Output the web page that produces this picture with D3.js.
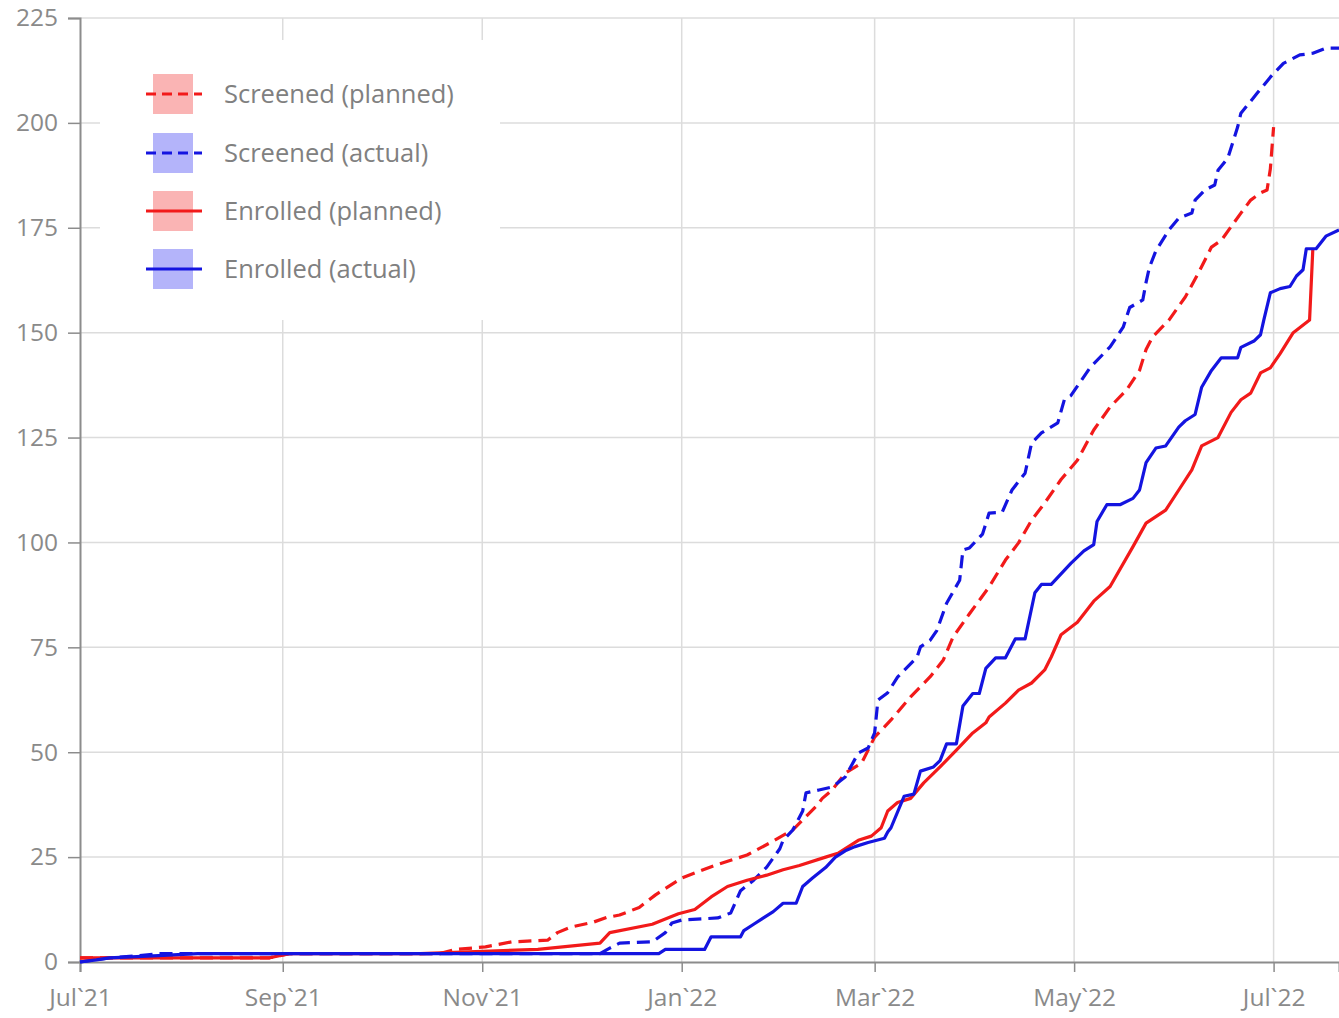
<!DOCTYPE html>
<html><head><meta charset="utf-8">
<script src="https://cdn.jsdelivr.net/npm/d3@7"></script>
<style>
html,body{margin:0;padding:0;background:#fff;}
svg{display:block;}
text{font-family:"Open Sans","Noto Sans",sans-serif;}
</style></head>
<body>
<svg id="chart" width="1339" height="1018"></svg>
<script>
// ---------- DATA ----------
const seriesNames = ["Screened (planned)", "Screened (actual)", "Enrolled (planned)", "Enrolled (actual)"];
const yTicks = [0, 25, 50, 75, 100, 125, 150, 175, 200, 225];
const xTickDates = ["2021-07-01","2021-09-01","2021-11-01","2022-01-01","2022-03-01","2022-05-01","2022-07-01"];
const xTickLabels = ["Jul`21","Sep`21","Nov`21","Jan`22","Mar`22","May`22","Jul`22"];

const screenedPlanned = [
 ["2021-07-01",1],["2021-08-28",1],["2021-09-03",2],["2021-10-19",2],["2021-10-24",3],["2021-11-02",3.6],
 ["2021-11-10",4.8],["2021-11-21",5.2],["2021-11-24",7],["2021-11-28",8.3],["2021-12-05",9.5],["2021-12-09",10.6],
 ["2021-12-13",11.2],["2021-12-19",13],["2021-12-24",16],["2022-01-01",20],["2022-01-11",23],["2022-01-21",25.5],
 ["2022-01-28",28.4],["2022-02-04",31.5],["2022-02-11",37],["2022-02-13",39],["2022-02-16",41],["2022-02-20",45],
 ["2022-02-25",47.4],["2022-03-01",53.6],["2022-03-06",57.7],["2022-03-12",63.2],["2022-03-18",68],["2022-03-22",72],
 ["2022-03-25",77.5],["2022-03-30",83],["2022-04-05",89.4],["2022-04-10",95.8],["2022-04-14",99.9],["2022-04-18",105.3],
 ["2022-04-22",109.4],["2022-04-27",115],["2022-05-02",119.6],["2022-05-07",126.8],["2022-05-12",132.3],["2022-05-17",136.3],
 ["2022-05-21",141],["2022-05-23",146],["2022-05-25",149],["2022-05-30",153],["2022-06-04",158.5],["2022-06-08",164.2],
 ["2022-06-12",170.4],["2022-06-15",172],["2022-06-21",178.5],["2022-06-24",181.6],["2022-06-27",183.3],["2022-06-29",184],
 ["2022-06-30",189],["2022-07-01",199]
];
const screenedActual = [
 ["2021-07-01",0],["2021-07-10",1],["2021-07-19",1.5],["2021-07-25",2],["2021-12-07",2],["2021-12-10",3.3],
 ["2021-12-13",4.5],["2021-12-23",4.8],["2021-12-27",7],["2021-12-29",9.3],["2022-01-01",10],["2022-01-12",10.5],
 ["2022-01-16",11.7],["2022-01-19",17],["2022-01-23",19.5],["2022-01-27",22.6],["2022-01-31",27],["2022-02-01",29],
 ["2022-02-04",31.5],["2022-02-07",36],["2022-02-08",40.3],["2022-02-12",41],["2022-02-16",41.7],["2022-02-20",44.1],
 ["2022-02-24",49.8],["2022-02-27",51],["2022-03-01",54.6],["2022-03-02",62.4],["2022-03-05",64.2],["2022-03-08",67.9],
 ["2022-03-14",72.7],["2022-03-15",75.1],["2022-03-18",76.7],["2022-03-20",79],["2022-03-23",85.5],["2022-03-27",91],
 ["2022-03-28",98.2],["2022-03-30",98.7],["2022-04-03",102],["2022-04-05",107],["2022-04-09",107.2],["2022-04-12",112.5],
 ["2022-04-16",116.5],["2022-04-18",123.7],["2022-04-21",126.1],["2022-04-26",128.5],["2022-04-28",134],["2022-04-30",135],
 ["2022-05-06",141.8],["2022-05-12",146.6],["2022-05-16",151.3],["2022-05-18",156],["2022-05-22",157.8],["2022-05-23",162],
 ["2022-05-24",165.5],["2022-05-26",169.5],["2022-05-30",174.5],["2022-06-02",177.3],["2022-06-06",178.5],["2022-06-07",181.6],
 ["2022-06-10",184],["2022-06-13",185.2],["2022-06-14",188.7],["2022-06-17",191.6],["2022-06-20",199],["2022-06-21",202.3],
 ["2022-06-26",207.1],["2022-06-30",210.9],["2022-07-04",214.2],["2022-07-09",216.2],["2022-07-13",216.6],["2022-07-17",217.8],
 ["2022-07-21",217.8]
];
const enrolledPlanned = [
 ["2021-07-01",1],["2021-08-28",1],["2021-09-03",2],["2021-10-13",2],["2021-11-18",3],["2021-12-07",4.5],
 ["2021-12-10",7],["2021-12-23",9],["2021-12-31",11.5],["2022-01-05",12.5],["2022-01-10",15.5],["2022-01-15",18],
 ["2022-01-21",19.5],["2022-01-27",20.7],["2022-02-01",22],["2022-02-06",23],["2022-02-14",25],["2022-02-18",26],
 ["2022-02-24",29],["2022-02-28",30],["2022-03-03",32],["2022-03-05",36],["2022-03-08",38],["2022-03-12",39],
 ["2022-03-16",42.7],["2022-03-21",46.5],["2022-03-26",50.5],["2022-03-31",54.6],["2022-04-04",57],["2022-04-05",58.4],
 ["2022-04-10",61.7],["2022-04-14",64.8],["2022-04-18",66.5],["2022-04-22",69.6],["2022-04-24",72.7],["2022-04-27",78],
 ["2022-05-02",81],["2022-05-07",86],["2022-05-12",89.5],["2022-05-19",99],["2022-05-23",104.6],["2022-05-29",107.7],
 ["2022-06-02",112.5],["2022-06-06",117.3],["2022-06-09",123],["2022-06-14",125],["2022-06-18",131],["2022-06-21",134],
 ["2022-06-24",135.6],["2022-06-27",140.4],["2022-06-30",141.6],["2022-07-03",145],["2022-07-07",150],["2022-07-12",153],
 ["2022-07-13",170]
];
const enrolledActual = [
 ["2021-07-01",0],["2021-07-06",0.5],["2021-07-10",1],["2021-07-25",1.5],["2021-08-06",2],["2021-12-25",2],
 ["2021-12-27",3],["2022-01-08",3],["2022-01-10",6],["2022-01-19",6],["2022-01-20",7.5],["2022-01-23",9],
 ["2022-01-26",10.5],["2022-01-29",12],["2022-02-01",14],["2022-02-05",14],["2022-02-07",18],["2022-02-10",20],
 ["2022-02-14",22.5],["2022-02-17",25],["2022-02-20",26.5],["2022-02-23",27.5],["2022-02-27",28.5],["2022-03-04",29.5],
 ["2022-03-05",31],["2022-03-06",32],["2022-03-10",39.5],["2022-03-13",40],["2022-03-15",45.5],["2022-03-19",46.5],
 ["2022-03-21",48],["2022-03-23",52],["2022-03-26",52],["2022-03-28",61],["2022-03-31",64],["2022-04-02",64],
 ["2022-04-04",70],["2022-04-07",72.5],["2022-04-10",72.5],["2022-04-13",77],["2022-04-16",77],["2022-04-19",88],
 ["2022-04-21",90],["2022-04-24",90],["2022-04-27",92.5],["2022-04-30",95],["2022-05-04",98],["2022-05-07",99.5],
 ["2022-05-08",105],["2022-05-11",109],["2022-05-15",109],["2022-05-19",110.5],["2022-05-21",112.5],["2022-05-23",119],
 ["2022-05-26",122.5],["2022-05-29",123],["2022-06-02",127.5],["2022-06-04",129],["2022-06-07",130.5],["2022-06-09",137],
 ["2022-06-12",141],["2022-06-15",144],["2022-06-20",144],["2022-06-21",146.5],["2022-06-25",148],["2022-06-27",149.5],
 ["2022-06-28",153],["2022-06-30",159.5],["2022-07-03",160.5],["2022-07-06",161],["2022-07-08",163.5],["2022-07-10",165],
 ["2022-07-11",170],["2022-07-14",170],["2022-07-17",173],["2022-07-21",174.5]
];

// ---------- STYLE / LAYOUT ----------
const RED = "#f21a1a", BLUE = "#1414e0";
const seriesStyle = [
  {data: screenedPlanned, color: RED, dash: "13,7", sw: "rgba(242,40,40,0.35)"},
  {data: screenedActual, color: BLUE, dash: "13,7", sw: "rgba(40,40,240,0.35)"},
  {data: enrolledPlanned, color: RED, dash: null, sw: "rgba(242,40,40,0.35)"},
  {data: enrolledActual, color: BLUE, dash: null, sw: "rgba(40,40,240,0.35)"}
];

const svg = d3.select("#chart");
const parse = d3.timeParse("%Y-%m-%d");
const M = {left: 80, right: 1339, top: 18, bottom: 962};

const x = d3.scaleTime()
  .domain([parse("2021-07-01"), parse("2022-07-21")])
  .range([M.left, M.right]);
const y = d3.scaleLinear().domain([0, 225]).range([M.bottom, M.top]);

// gridlines
const grid = svg.append("g");
grid.selectAll("line.h").data(yTicks.filter(d => d > 0)).join("line")
  .attr("x1", M.left).attr("x2", M.right)
  .attr("y1", d => y(d)).attr("y2", d => y(d))
  .attr("stroke", "#dcdcdc").attr("stroke-width", 1.5);
grid.selectAll("line.v").data(xTickDates.slice(1)).join("line")
  .attr("x1", d => x(parse(d))).attr("x2", d => x(parse(d)))
  .attr("y1", M.top).attr("y2", M.bottom)
  .attr("stroke", "#dcdcdc").attr("stroke-width", 1.5);

// legend background (covers grid)
svg.append("rect").attr("x", 100).attr("y", 40).attr("width", 400).attr("height", 280).attr("fill", "#fff");

// axes
const yAxis = svg.append("g").attr("transform", `translate(${M.left},0)`)
  .call(d3.axisLeft(y).tickValues(yTicks).tickSize(12).tickPadding(10));
const xAxis = svg.append("g").attr("transform", `translate(0,${M.bottom})`)
  .call(d3.axisBottom(x).tickValues(xTickDates.map(parse)).tickFormat((d, i) => xTickLabels[i]).tickSize(10).tickPadding(17));
[yAxis, xAxis].forEach(a => {
  a.select(".domain").attr("stroke", "#8c8c8c").attr("stroke-width", 2);
  a.selectAll(".tick line").attr("stroke", "#8c8c8c").attr("stroke-width", 1.5);
  a.selectAll(".tick text").attr("fill", "#8a8a8a").style("font-size", "24.5px")
    .style("font-family", '"Open Sans","Noto Sans",sans-serif');
});

// lines
const line = d3.line().x(d => x(parse(d[0]))).y(d => y(d[1]));
const linesG = svg.append("g");
seriesStyle.forEach(s => {
  linesG.append("path").datum(s.data).attr("d", line)
    .attr("fill", "none").attr("stroke", s.color).attr("stroke-width", 3.2)
    .attr("stroke-linejoin", "round")
    .attr("stroke-dasharray", s.dash);
});

// legend
const lg = svg.append("g");
const rowY = [94, 153, 211, 269];
seriesNames.forEach((name, i) => {
  const s = seriesStyle[i];
  const g = lg.append("g").attr("transform", `translate(0,${rowY[i]})`);
  g.append("rect").attr("x", 153).attr("y", -20).attr("width", 40).attr("height", 40).attr("fill", s.sw);
  g.append("line").attr("x1", 146).attr("x2", 202).attr("y1", 0).attr("y2", 0)
    .attr("stroke", s.color).attr("stroke-width", 3.2).attr("stroke-dasharray", s.dash ? "10,6" : null);
  g.append("text").attr("x", 224).attr("y", 0).attr("dy", "0.35em")
    .attr("fill", "#808080").style("font-size", "25.5px").text(name);
});
</script>
</body></html>
